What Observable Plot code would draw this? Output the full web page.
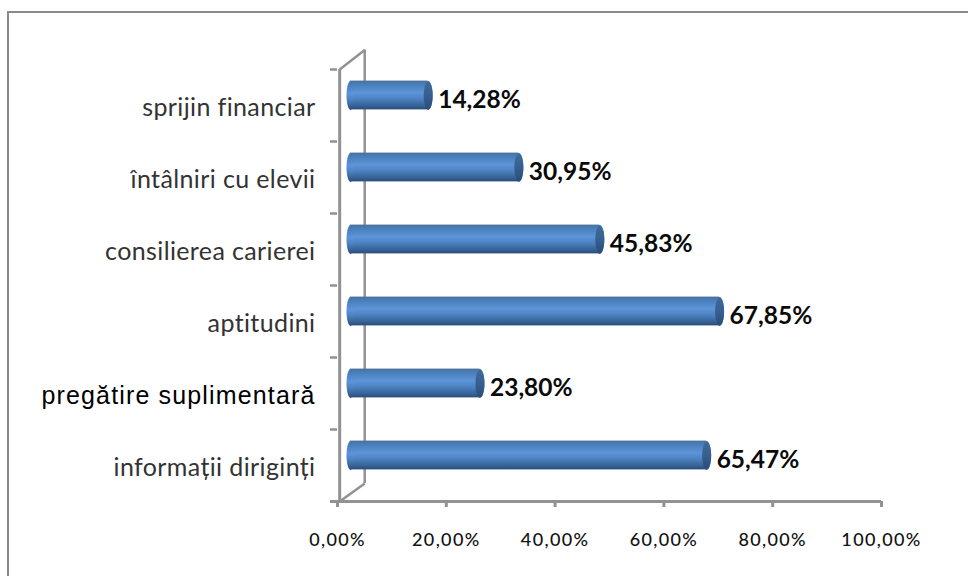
<!DOCTYPE html>
<html>
<head>
<meta charset="utf-8">
<script src="https://cdn.jsdelivr.net/npm/d3@7"></script>
<script src="https://cdn.jsdelivr.net/npm/@observablehq/plot@0.6"></script>
<style>
html,body{margin:0;padding:0;background:#fff;width:968px;height:576px;overflow:hidden}
#wrap{position:relative;width:968px;height:576px}
#wrap svg{position:absolute;left:0;top:0}
#edge{position:absolute;left:7px;top:11px;right:0;bottom:0;border-left:2px solid #8a8a8a;border-top:2px solid #8a8a8a}
g[aria-label="x-axis tick label"]{letter-spacing:1.35px}
g[font-family="Lato"][font-size="25"]{letter-spacing:0.38px}
g[font-family="Liberation Sans"]{letter-spacing:1.15px}
</style>
</head>
<body>
<div id="wrap"><div id="edge"></div></div>
<script>
const categories = ["informații diriginți","pregătire suplimentară","aptitudini","consilierea carierei","întâlniri cu elevii","sprijin financiar"];
const values = [65.47,23.80,67.85,45.83,30.95,14.28];
const labels = ["65,47%","23,80%","67,85%","45,83%","30,95%","14,28%"];
const xTicks = [0,20,40,60,80,100];
const yBounds = [0,1,2,3,4,5,6];
const rows = categories.map((c,i)=>({c,v:values[i],l:labels[i],i}));

const gridGray = "#929292";
const barDx = 13, barDy = -10;
const ellipse = (rx,ry)=>({draw(ctx){
  const k=0.5523;
  ctx.moveTo(-rx,0);
  ctx.bezierCurveTo(-rx,-k*ry,-k*rx,-ry,0,-ry);
  ctx.bezierCurveTo(k*rx,-ry,rx,-k*ry,rx,0);
  ctx.bezierCurveTo(rx,k*ry,k*rx,ry,0,ry);
  ctx.bezierCurveTo(-k*rx,ry,-rx,k*ry,-rx,0);
  ctx.closePath();
}});
const defs = ()=>{
  const s = d3.create("svg:g");
  const g = s.append("defs").append("linearGradient").attr("id","cyl").attr("x1",0).attr("x2",0).attr("y1",0).attr("y2",1);
  [[0,"#47719f"],[0.12,"#4a7db8"],[0.42,"#5c94d8"],[0.62,"#4f84c4"],[0.85,"#37659b"],[1,"#2a4d7a"]]
    .forEach(([o,c])=>g.append("stop").attr("offset",o).attr("stop-color",c));
  const e = s.select("defs").append("linearGradient").attr("id","cap").attr("x1",0).attr("x2",0).attr("y1",0).attr("y2",1);
  [[0,"#3f6a99"],[0.5,"#365f90"],[1,"#2b4c78"]].forEach(([o,c])=>e.append("stop").attr("offset",o).attr("stop-color",c));
  return s.node();
};

const chart = Plot.plot({
  width:968,height:576,
  marginLeft:337,marginRight:87,marginTop:69,marginBottom:75,
  style:{background:"transparent",overflow:"visible"},
  x:{domain:[0,100]},
  y:{domain:[0,6]},
  marks:[
    defs,
    Plot.ruleY([0],{x1:-1.3,x2:100,stroke:gridGray,strokeWidth:3}),
    Plot.ruleX([0.4],{y1:0,y2:6,stroke:gridGray,strokeWidth:3}),
    Plot.ruleX([5],{y1:0.25,y2:6.27,stroke:gridGray,strokeWidth:2.5}),
    Plot.link([{a:0.4,b:0,c:5,d:0.25},{a:0.4,b:6,c:5,d:6.27}],{x1:"a",y1:"b",x2:"c",y2:"d",stroke:gridGray,strokeWidth:2.5}),
    Plot.axisY({ticks:yBounds,tickFormat:()=>"",tickSize:7,stroke:gridGray,strokeWidth:2.5,label:null}),
    Plot.axisX({ticks:xTicks,tickFormat:d=>d.toFixed(2).replace(".",",")+"%",tickSize:6,stroke:gridGray,strokeWidth:3,tickPadding:26,label:null,
      fontSize:18,fontFamily:"Lato",fontWeight:500,fill:"#111"}),
    Plot.rect(rows,{x1:0,x2:"v",y1:d=>d.i+0.3,y2:d=>d.i+0.7,dx:barDx,dy:barDy,fill:"url(#cyl)"}),
    Plot.dot(rows,{x:0,y:d=>d.i+0.5,dx:barDx,dy:barDy,symbol:ellipse(4,14.4),r:5,fill:"url(#cyl)",stroke:"none"}),
    Plot.dot(rows,{x:"v",y:d=>d.i+0.5,dx:barDx,dy:barDy,symbol:ellipse(4.5,14.4),r:5,fill:"url(#cyl)",stroke:"none"}),
    Plot.dot(rows,{x:"v",y:d=>d.i+0.5,dx:barDx,dy:barDy,symbol:ellipse(4.5,13.8),r:5,fill:"url(#cap)",stroke:"none"}),
    Plot.text(rows,{x:"v",y:d=>d.i+0.5,text:"l",textAnchor:"start",dx:barDx+10,dy:-5,fontFamily:"Lato",fontWeight:700,fontSize:24.5,fill:"#0a0a0a"}),
    Plot.text(rows.filter(d=>d.i!==1),{x:0,y:d=>d.i+0.5,text:"c",textAnchor:"end",dx:-22,dy:2,fontFamily:"Lato",fontSize:25,fill:"#333"}),
    Plot.text(rows.filter(d=>d.i===1),{x:0,y:d=>d.i+0.5,text:"c",textAnchor:"end",dx:-22,dy:2,fontFamily:"Liberation Sans",fontSize:25,fill:"#000"})
  ]
});
document.getElementById("wrap").appendChild(chart);
</script>
</body>
</html>
